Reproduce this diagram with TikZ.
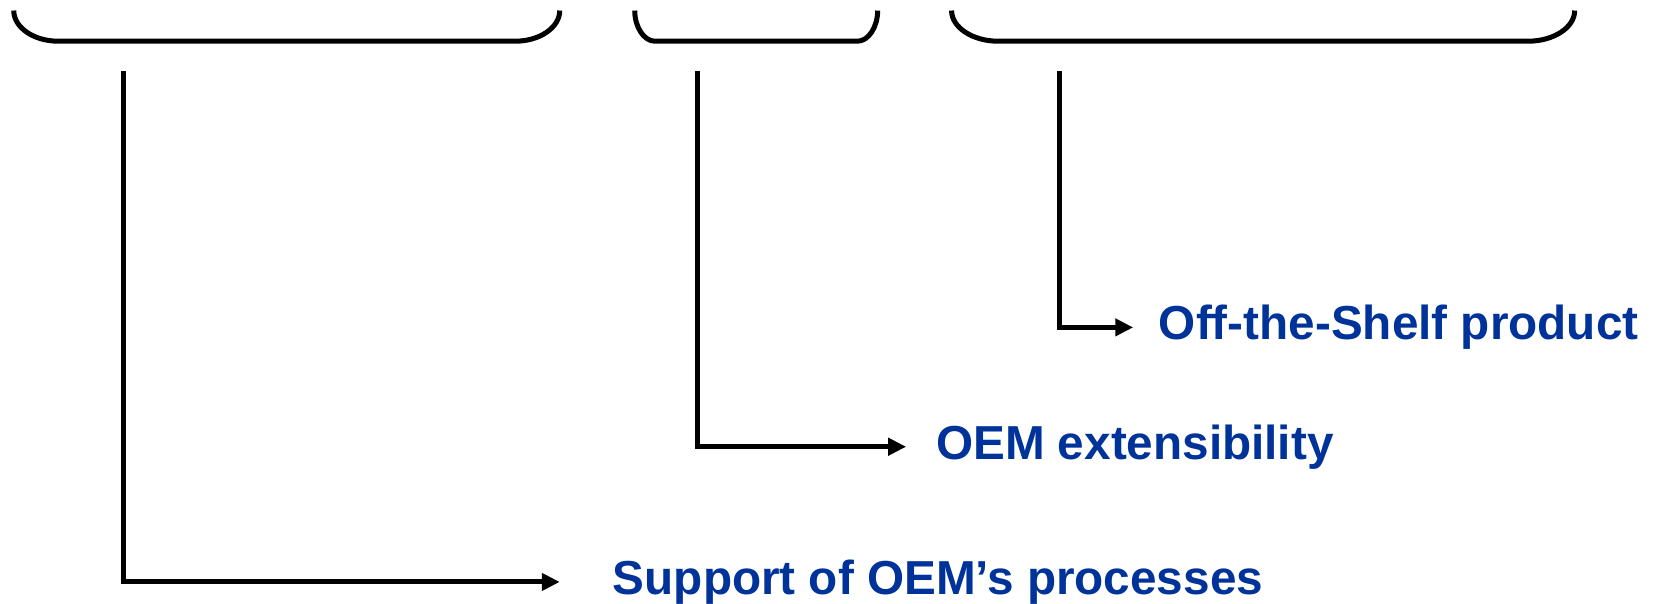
\documentclass[tikz,border=0pt]{standalone}
\usepackage{fontspec}
\setmainfont{Liberation Sans}
\usetikzlibrary{arrows.meta}
\definecolor{oemblue}{RGB}{0,51,153}
\begin{document}
\begin{tikzpicture}[x=0.02cm,y=-0.02cm,
    line width=2.7pt,
    arr/.style={-{Triangle[length=0.34cm,width=0.32cm]}},
    lbl/.style={anchor=west,inner sep=0pt,text=oemblue,font=\fontsize{25.7}{30}\selectfont\bfseries}]
                    \useasboundingbox (0,0) rectangle (1568,571);
                    \draw (13,10) .. controls (13,26) and (32,39) .. (55,39) -- (488,39) .. controls (511,39) and (530,26) .. (530,10);
                    \draw (601,10) .. controls (601,26) and (610,39) .. (620,39) -- (812,39) .. controls (822,39) and (831,26) .. (831,10);
                    \draw (901,10) .. controls (901,26) and (921,39) .. (945,39) -- (1447,39) .. controls (1471,39) and (1491,26) .. (1491,10);
                    \coordinate (b1) at (117,67);
                    \coordinate (b2) at (660,67);
                    \coordinate (b3) at (1003,67);
                    \node[lbl] (sup) at (578,551) {Support of OEM’s processes};
                    \node[lbl] (ext) at (884,423) {OEM extensibility};
                    \node[lbl] (ots) at (1095,310) {Off-the-Shelf product};
                    \draw[arr,shorten >=0.96cm] (b1) |- (sup);
                    \draw[arr,shorten >=0.52cm] (b2) |- (ext);
                    \draw[arr,shorten >=0.44cm] (b3) |- (ots);
                \end{tikzpicture}
\end{document}
